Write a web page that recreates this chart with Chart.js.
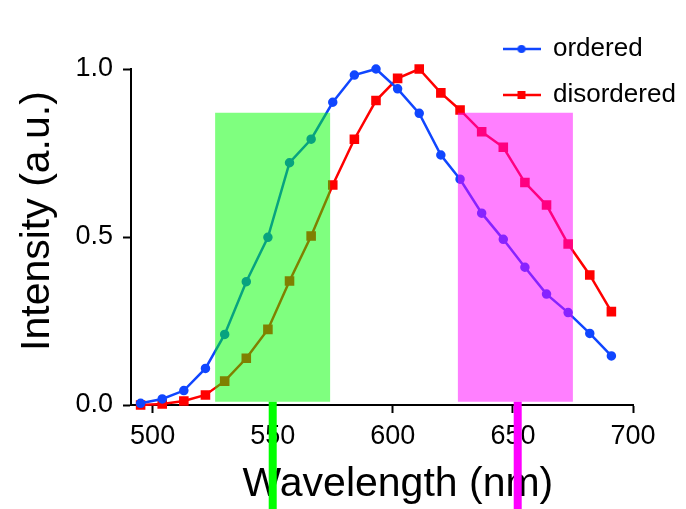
<!DOCTYPE html>
<html>
<head>
<meta charset="utf-8">
<script src="https://cdn.jsdelivr.net/npm/chart.js@4.4.1/dist/chart.umd.min.js"></script>
<style>
  html, body { margin: 0; padding: 0; background: #fff; }
  canvas { display: block; }
</style>
</head>
<body>
<canvas id="myChart" width="686" height="509"></canvas>
<script>
// data
const wavelengths = [495, 504, 513, 522, 530, 539, 548, 557, 566, 575, 584, 593, 602, 611, 620, 628, 637, 646, 655, 664, 673, 682, 691];
const ordered = [0.005, 0.018, 0.043, 0.109, 0.210, 0.367, 0.499, 0.721, 0.791, 0.901, 0.982, 1.0, 0.941, 0.868, 0.744, 0.672, 0.571, 0.493, 0.410, 0.330, 0.275, 0.213, 0.146];
const disordered = [0.0, 0.003, 0.012, 0.030, 0.071, 0.139, 0.225, 0.369, 0.503, 0.655, 0.791, 0.906, 0.972, 1.0, 0.929, 0.878, 0.813, 0.767, 0.662, 0.595, 0.479, 0.387, 0.278];

// shaded bands (nm) and their height range, plus the two marker lines (nm)
const greenBand = [526, 574];
const magentaBand = [627, 675];
const bandRange = [0.01, 0.87];
const markerLines = [550, 652];

const xTicks = [500, 550, 600, 650, 700];
const yTicks = [0, 0.5, 1.0];

const FONT = "'Liberation Sans', Arial, Helvetica, sans-serif";
const BLUE = 'rgb(16,70,255)';
const RED = 'rgb(255,0,0)';

function legendImage(color, shape) {
    const c = document.createElement('canvas');
    c.width = 38; c.height = 12;
    const g = c.getContext('2d');
    g.strokeStyle = color; g.fillStyle = color; g.lineWidth = 2.5;
    g.beginPath(); g.moveTo(0, 6); g.lineTo(38, 6); g.stroke();
    if (shape === 'circle') { g.beginPath(); g.arc(19, 6, 4, 0, Math.PI * 2); g.fill(); }
    else g.fillRect(15, 2, 8, 8);
    return c;
}

const pts = (xs, ys) => xs.map((x, i) => ({ x, y: ys[i] }));

// move the legend to the top right corner, outside the plot area
const legendPlacement = {
    id: 'legendPlacement',
    afterLayout(chart) {
        const lg = chart.legend;
        const w = lg.width, h = lg.height;
        lg.left = 483; lg.top = 16;
        lg.right = lg.left + w; lg.bottom = lg.top + h;
    }
};

new Chart(document.getElementById('myChart'), {
    type: 'line',
    data: {
        datasets: [
            { label: 'green band', data: [{ x: greenBand[0], y: bandRange[1] }, { x: greenBand[1], y: bandRange[1] }],
              fill: { value: bandRange[0] }, backgroundColor: 'rgba(0,255,0,0.5)', borderWidth: 0, pointRadius: 0 },
            { label: 'magenta band', data: [{ x: magentaBand[0], y: bandRange[1] }, { x: magentaBand[1], y: bandRange[1] }],
              fill: { value: bandRange[0] }, backgroundColor: 'rgba(255,0,255,0.5)', borderWidth: 0, pointRadius: 0 },
            { label: 'ordered', data: pts(wavelengths, ordered), borderColor: BLUE, backgroundColor: BLUE,
              borderWidth: 2.5, pointRadius: 3.5, pointStyle: 'circle', fill: false, clip: false },
            { label: 'disordered', data: pts(wavelengths, disordered), borderColor: RED, backgroundColor: RED,
              borderWidth: 2.5, pointRadius: 5, pointStyle: 'rect', fill: false, clip: false },
            { label: 'green marker', data: [{ x: markerLines[0], y: bandRange[0] }, { x: markerLines[0], y: -0.4 }],
              borderColor: '#00ff00', borderWidth: 8, pointRadius: 0, fill: false, clip: false },
            { label: 'magenta marker', data: [{ x: markerLines[1], y: bandRange[0] }, { x: markerLines[1], y: -0.4 }],
              borderColor: '#ff00ff', borderWidth: 8, pointRadius: 0, fill: false, clip: false }
        ]
    },
    options: {
        responsive: false,
        animation: false,
        layout: { padding: { left: 0, top: 69, right: 53, bottom: 0 } },
        scales: {
            x: {
                type: 'linear', min: 491, max: 700,
                afterBuildTicks: s => { s.ticks = xTicks.map(v => ({ value: v })); },
                afterFit: s => { s.height = 104; },
                border: { color: '#000', width: 2 },
                grid: { drawOnChartArea: false, drawTicks: true, tickLength: 8, tickWidth: 2, tickColor: '#000' },
                ticks: { color: '#000', font: { family: FONT, size: 27 }, padding: 7, maxRotation: 0, autoSkip: false },
                title: { display: true, text: '\u2002 Wavelength (nm)', color: '#000',
                         font: { family: FONT, size: 41 }, padding: { top: 0, bottom: 0 } }
            },
            y: {
                min: 0, max: 1,
                afterBuildTicks: s => { s.ticks = yTicks.map(v => ({ value: v })); },
                afterFit: s => { s.width = 131; },
                border: { color: '#000', width: 2 },
                grid: { drawOnChartArea: false, drawTicks: true, tickLength: 8, tickWidth: 2, tickColor: '#000' },
                ticks: { color: '#000', font: { family: FONT, size: 27 }, padding: 10, callback: v => v.toFixed(1) },
                title: { display: true, text: '\u2002 Intensity (a.u.)', color: '#000',
                         font: { family: FONT, size: 41 }, padding: { top: 13, bottom: 0 } }
            }
        },
        plugins: {
            tooltip: { enabled: false },
            legend: {
                position: 'chartArea',
                align: 'start',
                labels: {
                    usePointStyle: true,
                    pointStyleWidth: 37,
                    color: '#000',
                    font: { family: FONT, size: 26 },
                    padding: 20,
                    generateLabels: () => [
                        { text: 'ordered', pointStyle: legendImage(BLUE, 'circle'), fontColor: '#000', lineWidth: 0, datasetIndex: 2 },
                        { text: 'disordered', pointStyle: legendImage(RED, 'rect'), fontColor: '#000', lineWidth: 0, datasetIndex: 3 }
                    ]
                }
            }
        }
    },
    plugins: [legendPlacement]
});
</script>
</body>
</html>
